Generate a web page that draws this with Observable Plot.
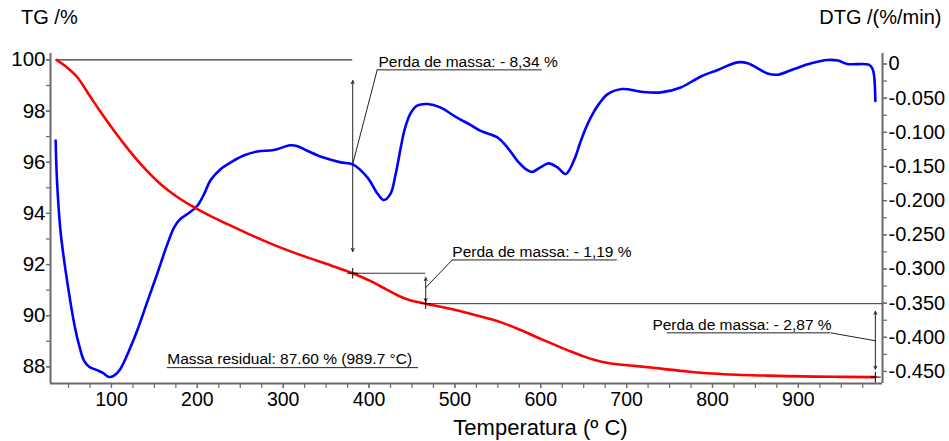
<!DOCTYPE html>
<html><head><meta charset="utf-8">
<script src="https://cdn.jsdelivr.net/npm/d3@7"></script>
<script src="https://cdn.jsdelivr.net/npm/@observablehq/plot@0.6"></script>
<style>body{margin:0;background:#fff}</style>
</head><body><div id="chart"></div>
<script>
// TG curve (temperature °C, mass %)
const tgTemp = [36, 48, 60, 75, 87, 103, 126, 140, 157, 175, 196, 215, 235, 260, 289, 328, 355, 381, 405, 420, 433, 445, 466, 490, 518, 540, 557, 575, 596, 615, 635, 650, 662, 680, 712, 740, 771, 800, 829, 860, 887, 920, 950, 989.7];
const tgMass = [100, 99.71, 99.33, 98.58, 97.98, 97.23, 96.24, 95.71, 95.15, 94.68, 94.24, 93.9, 93.58, 93.19, 92.77, 92.28, 91.97, 91.66, 91.3, 91.03, 90.8, 90.63, 90.47, 90.3, 90.08, 89.88, 89.7, 89.46, 89.15, 88.88, 88.6, 88.41, 88.28, 88.14, 88.03, 87.93, 87.82, 87.74, 87.69, 87.66, 87.64, 87.62, 87.61, 87.60];

// DTG curve (temperature °C, %/min)
const dtgTemp = [35, 36.6, 40.6, 44.4, 48.3, 56, 62, 68, 74, 83, 90, 97, 103, 110, 122, 130, 142, 153, 165, 173, 180, 188, 200, 208, 215, 227, 239, 254, 270, 289, 308, 316, 328, 347, 367, 381, 398, 410, 417, 425, 431, 437, 441, 448, 456, 468, 483, 503, 518, 530, 549, 561, 573, 584, 590, 600, 609, 619, 629, 639, 646, 652, 660, 668, 678, 695, 717, 740, 763, 786, 806, 829, 841, 864, 876, 895, 915, 934, 946, 957, 982, 986, 988, 989.7];
const dtgRate = [-0.112, -0.171, -0.244, -0.283, -0.317, -0.376, -0.41, -0.434, -0.443, -0.448, -0.452, -0.458, -0.456, -0.447, -0.415, -0.39, -0.347, -0.308, -0.264, -0.239, -0.227, -0.22, -0.2075, -0.19, -0.171, -0.154, -0.144, -0.134, -0.128, -0.126, -0.119, -0.12, -0.127, -0.137, -0.144, -0.147, -0.166, -0.19, -0.199, -0.19, -0.161, -0.122, -0.098, -0.073, -0.061, -0.0586, -0.0635, -0.079, -0.089, -0.098, -0.107, -0.122, -0.142, -0.155, -0.158, -0.151, -0.1455, -0.151, -0.161, -0.14, -0.115, -0.095, -0.074, -0.058, -0.044, -0.0366, -0.0406, -0.0416, -0.0343, -0.0186, -0.0088, 0.0024, 0.001, -0.0138, -0.0157, -0.0073, 0.001, 0.0059, 0.005, 0, -0.001, -0.006, -0.015, -0.054];

// Axes
const xDomain = [29, 998];
const yDomain = [87.35, 100.25];
const xMajorTicks = [100, 200, 300, 400, 500, 600, 700, 800, 900];
const xMinorTicks = d3.range(50, 976, 25);
const yMajorTicks = [88, 90, 92, 94, 96, 98, 100];
const yMinorTicks = d3.range(88, 101, 1);
const dtgMajorTicks = [0, -0.05, -0.1, -0.15, -0.2, -0.25, -0.3, -0.35, -0.4, -0.45];
const dtgMinorTicks = d3.range(0, 19).map(i => -i * 0.025);
const dtgCalib = [0, -0.45];
const tgCalib = [99.84, 87.82];

// Annotations
const lossLabels = ["Perda de massa: - 8,34 %", "Perda de massa: - 1,19 %", "Perda de massa: - 2,87 %"];
const lossTemp = [381, 466, 989.7];
const lossTop = [99.19, 91.49, 90.17];
const lossBottom = [92.51, 90.55, 87.91];
const lossMid = [95.93, 91.10, 89.02];
const leaderTemp = [409.5, 496.9, 937.6];
const leaderMass = [99.61, 92.18, 89.33];
const underlineEnd = [601.7, 689.1, 747.4];
const labelTemp = [411, 497, 730];
const stepStart = [36, 381, 466];
const stepEnd = [381, 466, 998];
const stepMass = [100, 91.66, 90.47];
const markTemp = [381, 466, 989.7];
const markMass = [91.66, 90.47, 87.60];
const residualLabel = ["Massa residual: 87.60 % (989.7 °C)"];
const residualStart = 165;
const residualEnd = 457.6;
const residualMass = 87.97;

const dtgToTg = d3.scaleLinear().domain(dtgCalib).range(tgCalib);
const tgData = tgTemp.map((t, i) => ({t, v: tgMass[i]}));
const dtgData = dtgTemp.map((t, i) => ({t, v: dtgToTg(dtgRate[i])}));
const idx = d3.range(3);
const axisColor = "#6a6a6a";
const font = "Arial, 'Liberation Sans', sans-serif";

const chart = Plot.plot({
  width: 949,
  height: 441,
  marginLeft: 50,
  marginRight: 67,
  marginTop: 53,
  marginBottom: 58,
  style: {fontFamily: font, fontSize: "18px", background: "white", color: "black"},
  x: {domain: xDomain},
  y: {domain: yDomain},
  marks: [
    // axis lines
    Plot.ruleY([yDomain[0]], {stroke: axisColor, strokeWidth: 2}),
    Plot.ruleX([xDomain[0]], {stroke: axisColor, strokeWidth: 2}),
    Plot.ruleX([xDomain[1]], {stroke: axisColor, strokeWidth: 2}),
    // ticks
    Plot.axisX(xMinorTicks, {tickSize: 5, tickFormat: () => "", stroke: axisColor, strokeWidth: 1.2, label: null}),
    Plot.axisX(xMajorTicks, {tickSize: 5, tickPadding: 4, fontSize: 19.5, stroke: axisColor, strokeWidth: 1.2, fill: "#000", label: null}),
    Plot.axisY(yMinorTicks, {anchor: "left", tickSize: 4, tickFormat: () => "", stroke: axisColor, strokeWidth: 1.2, label: null}),
    Plot.axisY(yMajorTicks, {anchor: "left", tickSize: 4, tickPadding: 1, fontSize: 20.5, stroke: axisColor, strokeWidth: 1.2, fill: "#000", label: null}),
    Plot.axisY(dtgMinorTicks.map(dtgToTg), {anchor: "right", tickSize: 4, tickFormat: () => "", stroke: axisColor, strokeWidth: 1.2, label: null}),
    Plot.axisY(dtgMajorTicks.map(dtgToTg), {anchor: "right", tickSize: 4, tickPadding: 2, fontSize: 20, stroke: axisColor, strokeWidth: 1.2, fill: "#000", label: null,
      tickFormat: v => { const d = dtgToTg.invert(v); return Math.abs(d) < 1e-6 ? "0" : d.toFixed(3); }}),
    // titles
    Plot.text(["TG /%"], {text: d => d, frameAnchor: "top-left", dx: -29.5, dy: -29.7, textAnchor: "start", lineAnchor: "bottom", fontSize: 20}),
    Plot.text(["DTG /(%/min)"], {text: d => d, frameAnchor: "top-right", dx: 59, dy: -29.7, textAnchor: "end", lineAnchor: "bottom", fontSize: 20}),
    Plot.text(["Temperatura (º C)"], {text: d => d, frameAnchor: "bottom", dx: 74, dy: 51, lineAnchor: "bottom", fontSize: 22}),
    // annotation lines
    Plot.ruleY(idx, {y: i => stepMass[i], x1: i => stepStart[i], x2: i => stepEnd[i], stroke: i => i === 0 ? "#000" : "#333", strokeWidth: 1}),
    Plot.arrow(idx, {x1: i => lossTemp[i], x2: i => lossTemp[i], y1: i => lossMid[i], y2: i => lossTop[i], stroke: "#222", strokeWidth: 1, headLength: 5, headAngle: 50}),
    Plot.arrow(idx, {x1: i => lossTemp[i], x2: i => lossTemp[i], y1: i => lossMid[i], y2: i => lossBottom[i], stroke: "#222", strokeWidth: 1, headLength: 5, headAngle: 50}),
    Plot.link(idx, {x1: i => lossTemp[i], y1: i => lossMid[i], x2: i => leaderTemp[i], y2: i => leaderMass[i], stroke: "#222", strokeWidth: 1}),
    Plot.ruleY(idx, {y: i => leaderMass[i], x1: i => leaderTemp[i], x2: i => underlineEnd[i], stroke: "#222", strokeWidth: 1}),
    Plot.text(idx, {x: i => labelTemp[i], y: i => leaderMass[i], text: i => lossLabels[i], textAnchor: "start", lineAnchor: "bottom", dy: -3, fontSize: 15.5}),
    Plot.ruleY([residualMass], {x1: residualStart, x2: residualEnd, stroke: "#222", strokeWidth: 1}),
    Plot.text(residualLabel, {text: d => d, x: residualStart, y: residualMass, textAnchor: "start", lineAnchor: "bottom", dy: -3.5, fontSize: 15.5}),
    // curves
    Plot.line(dtgData, {x: "t", y: "v", stroke: "#0000ff", strokeWidth: 2.6, curve: "catmull-rom"}),
    Plot.line(tgData, {x: "t", y: "v", stroke: "#ff0000", strokeWidth: 2.6, curve: "monotone-x"}),
    Plot.dot(idx, {x: i => markTemp[i], y: i => markMass[i], symbol: "plus", r: 3.5, stroke: "#000", strokeWidth: 1})
  ]
});
document.getElementById("chart").appendChild(chart);
</script>
</body></html>
